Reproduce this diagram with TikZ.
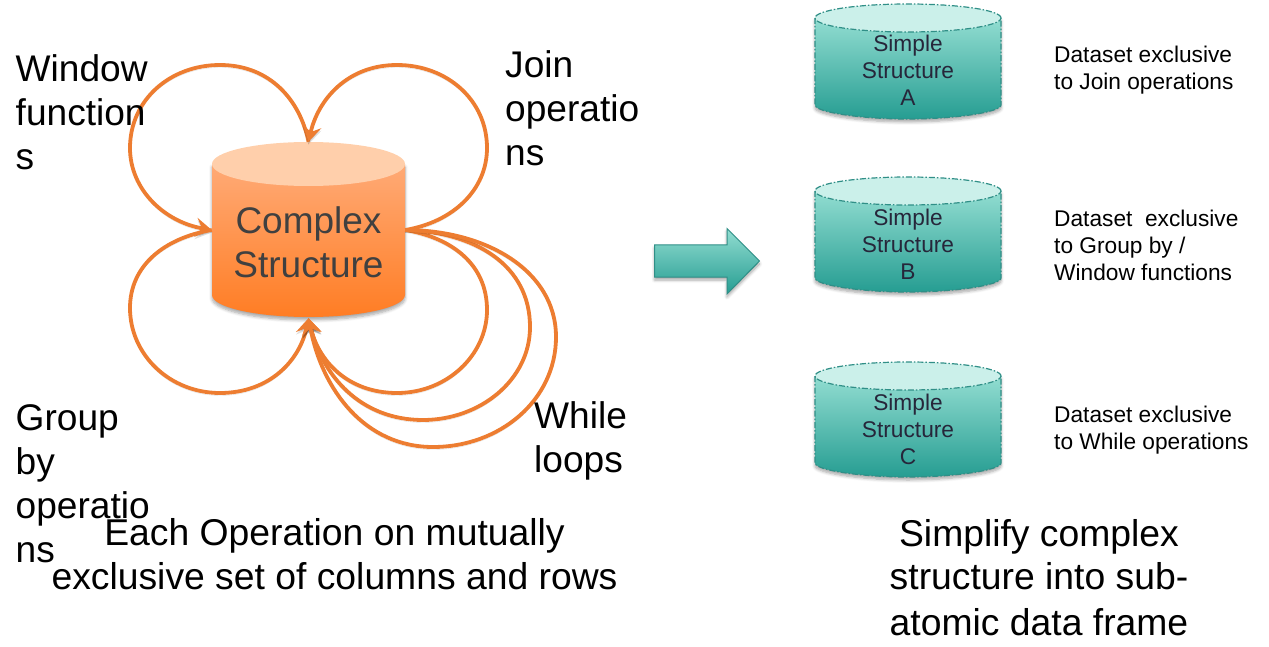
\documentclass[tikz,border=0pt]{standalone}
\usepackage{fontspec}
\setmainfont{Liberation Sans}
\usetikzlibrary{arrows.meta}
\usetikzlibrary{shadows.blur}
\definecolor{loop-orange}{RGB}{237, 125, 49}
\definecolor{body-top}{RGB}{255, 170, 118}
\definecolor{body-bottom}{RGB}{255, 125, 36}
\definecolor{lid-orange}{RGB}{255, 207, 171}
\definecolor{teal-top}{RGB}{146, 221, 209}
\definecolor{teal-bottom}{RGB}{38, 157, 146}
\definecolor{lid-teal}{RGB}{203, 240, 234}
\definecolor{teal-line}{RGB}{48, 143, 135}
\definecolor{cyl-text}{RGB}{64, 64, 64}
\definecolor{simple-text}{RGB}{38, 38, 58}
\tikzset{
  biglabel/.style={anchor=base west, inner sep=0pt, align=left, font=\fontsize{37.1}{44}\selectfont},
  caption/.style={anchor=base, inner sep=0pt, align=center, font=\fontsize{37.3}{43.5}\selectfont},
  note/.style={anchor=base west, inner sep=0pt, align=left, font=\fontsize{22.7}{27}\selectfont},
  loopline/.style={draw=loop-orange, line width=3.8pt, preaction={draw=black, opacity=0.12, transform canvas={yshift=-2.5pt}}},
  looparrow/.style={loopline, -{Stealth[length=16pt,width=19pt,inset=6pt]}},
  softshadow/.style={blur shadow={shadow xshift=0pt,shadow yshift=-3pt,shadow blur radius=3pt,shadow blur steps=6,shadow opacity=35}}
}
\begin{document}
\begin{tikzpicture}[x=1pt,y=-1pt]
\useasboundingbox (0,0) rectangle (1269,647);
\shade[top color=body-top, bottom color=body-bottom, softshadow] (212,164) -- (212,295) .. controls (212,307) and (255,317) .. (308.5,317) .. controls (362,317) and (405,307) .. (405,295) -- (405,164) -- cycle;
\fill[lid-orange] (308.5,164) ellipse [x radius=96.5pt, y radius=22pt];
\node[minimum width=193pt, minimum height=176pt, inner sep=0pt] (complex) at (308.5,230) {};
\node[anchor=base, inner sep=0pt, align=center, text=cyl-text, font=\fontsize{37}{44}\selectfont] (complexlabel) at (308.5,277) {Complex\\Structure};

\draw[looparrow] (complex.north) .. controls (300,100) and (270,65) .. (220,65) .. controls (170,65) and (130,100) .. (130,148) .. controls (130,190) and (165,222) .. (complex.west);
\draw[looparrow] (complex.east) .. controls (453,222) and (487,190) .. (487,148) .. controls (487,100) and (447,65) .. (397,65) .. controls (347,65) and (318,100) .. (complex.north);
\draw[looparrow] (complex.west) .. controls (165,238) and (130,265) .. (130,308) .. controls (130,355) and (170,393) .. (220,393) .. controls (270,393) and (300,360) .. (complex.south);
\draw[looparrow] (complex.east) .. controls (453,238) and (487,265) .. (487,310) .. controls (487,355) and (447,393) .. (397,393) .. controls (347,393) and (318,360) .. (complex.south);
\draw[looparrow] (complex.east) .. controls (475,232) and (530,265) .. (530,327) .. controls (530,380) and (480,420) .. (423,420) .. controls (360,420) and (322,375) .. (complex.south);
\draw[looparrow] (complex.east) .. controls (485,230) and (556,270) .. (556,337) .. controls (556,400) and (500,447) .. (433,447) .. controls (365,447) and (322,390) .. (complex.south);

\node[biglabel] (window) at (15.5,170) {Window\\function\\s};
\node[biglabel] (join) at (505,166) {Join\\operatio\\ns};
\node[biglabel] (group) at (15.5,562) {Group\\by\\operatio\\ns};
\node[biglabel] (while) at (534,472) {While\\loops};
\node[caption] (eachop) at (334.5,589) {Each Operation on mutually\\exclusive set of columns and rows};
\node[caption] (simplify) at (1039,635) {Simplify complex\\structure into sub-\\[2pt]atomic data frame};

\shade[top color=teal-top, bottom color=teal-bottom, draw=teal-line, line width=1pt, softshadow] (654.5,245) -- (727,245) -- (727,228.5) -- (759.5,261) -- (727,294) -- (727,277) -- (654.5,277) -- cycle;

\foreach \name/\ytop in {A/4,B/177,C/362} {
  \shade[top color=teal-top, bottom color=teal-bottom, softshadow] (815,\ytop+14) -- (815,\ytop+101) .. controls (815,\ytop+108) and (860,\ytop+115) .. (908,\ytop+115) .. controls (956,\ytop+115) and (1001,\ytop+108) .. (1001,\ytop+101) -- (1001,\ytop+14) -- cycle;
  \fill[lid-teal] (908,\ytop+14) ellipse [x radius=93pt, y radius=14pt];
  \draw[teal-line, line width=1.2pt, dash pattern=on 6pt off 2pt on 1.5pt off 2pt] (815,\ytop+14) -- (815,\ytop+101) .. controls (815,\ytop+108) and (860,\ytop+115) .. (908,\ytop+115) .. controls (956,\ytop+115) and (1001,\ytop+108) .. (1001,\ytop+101) -- (1001,\ytop+14);
  \draw[teal-line, line width=1.2pt, dash pattern=on 6pt off 2pt on 1.5pt off 2pt] (908,\ytop+14) ellipse [x radius=93pt, y radius=14pt];
  \node[anchor=base, inner sep=0pt, align=center, text=simple-text, font=\fontsize{22.7}{27}\selectfont] (simple\name) at (908,\ytop+102) {Simple\\Structure\\\name};
}

\node[note] (noteA) at (1054,90) {Dataset exclusive\\to Join operations};
\node[note] (noteB) at (1054,280) {Dataset\ \ exclusive\\to Group by /\\Window functions};
\node[note] (noteC) at (1054,449) {Dataset exclusive\\to While operations};
\end{tikzpicture}
\end{document}
